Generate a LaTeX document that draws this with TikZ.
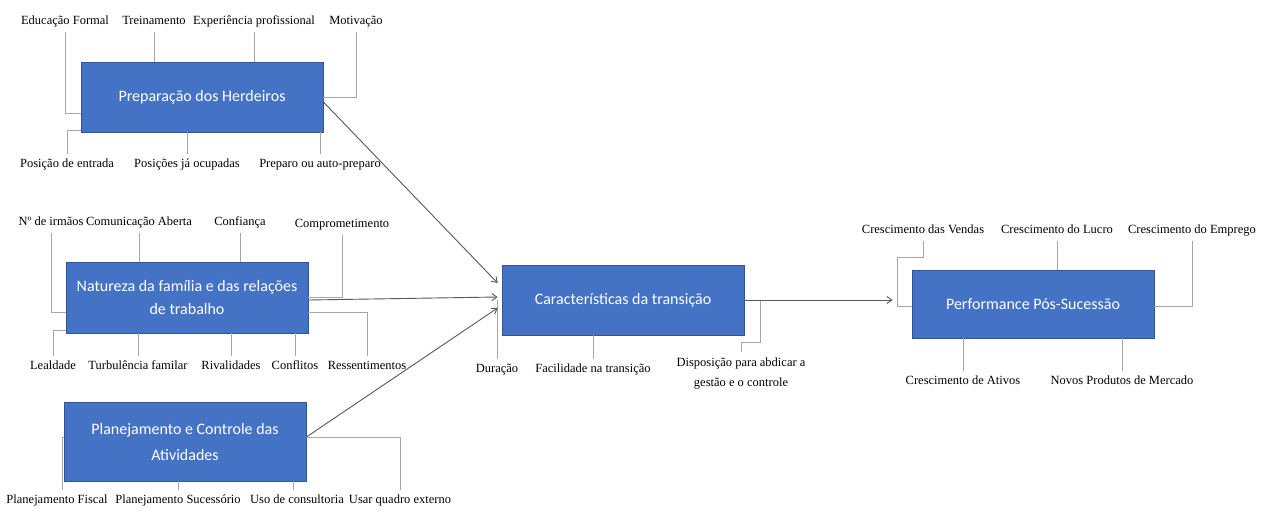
\documentclass[tikz,border=0pt]{standalone}
\usepackage{fontspec}
\setmainfont{Liberation Serif}
\newfontfamily\boxfont{Carlito}
\usetikzlibrary{arrows.meta}
\definecolor{boxblue}{HTML}{4472C4}
\definecolor{boxedge}{HTML}{2F5597}
\definecolor{linegray}{HTML}{A6A6A6}
\definecolor{arrowgray}{HTML}{595959}
\begin{document}
\begin{tikzpicture}[x=1pt,y=-1pt,
  blk/.style={draw=boxedge, line width=0.8pt, fill=boxblue, text=white,
    font=\boxfont\fontsize{16}{24}\selectfont, align=center,
    minimum width=242pt, inner sep=0pt},
  lbl/.style={font=\fontsize{12.5}{20}\selectfont, inner sep=0pt, outer ysep=4.5pt,
    text height=9pt, text depth=3pt, anchor=base},
  lbltwo/.style={font=\fontsize{12.5}{20}\selectfont, inner sep=0pt, outer ysep=6pt,
    align=center, anchor=north},
  conn/.style={draw=linegray, line width=1pt},
  arr/.style={draw=arrowgray, line width=0.9pt, -{Straight Barb[length=5pt,width=7pt]}}]
\fill[white] (0,0) rectangle (1273,511);
\useasboundingbox (0,0) rectangle (1273,511);

% Boxes
\node[blk, minimum height=70pt] (b1) at (202,97) {Preparação dos Herdeiros};
\node[blk, minimum height=71pt] (b2) at (187,297.5) {Natureza da família e das relações\\de trabalho};
\node[blk, minimum height=79pt] (b3) at (185,441.5) {Planejamento e Controle das\\[2pt]Atividades};
\node[blk, minimum height=70pt] (b4) at (623,300) {Características da transição};
\node[blk, minimum height=68pt] (b5) at (1033,304) {Performance Pós-Sucessão};

% Labels box 1
\node[lbl] (ef) at (65,25) {Educação Formal};
\node[lbl] (tr) at (154,25) {Treinamento};
\node[lbl] (ep) at (254,25) {Experiência profissional};
\node[lbl] (mo) at (356,25) {Motivação};
\node[lbl] (pe) at (67,167) {Posição de entrada};
\node[lbl] (pj) at (187,167) {Posições já ocupadas};
\node[lbl] (pa) at (320,167) {Preparo ou auto-preparo};

% Labels box 2
\node[lbl] (ni) at (51,225) {Nº de irmãos};
\node[lbl] (ca) at (139,225) {Comunicação Aberta};
\node[lbl] (cf) at (240,225) {Confiança};
\node[lbl] (cm) at (342,227) {Comprometimento};
\node[lbl] (le) at (53,369) {Lealdade};
\node[lbl] (tf) at (138,369) {Turbulência familar};
\node[lbl] (rv) at (231,369) {Rivalidades};
\node[lbl] (co) at (295,369) {Conflitos};
\node[lbl] (rs) at (367,369) {Ressentimentos};

% Labels box 3
\node[lbl] (pf) at (57,503) {Planejamento Fiscal};
\node[lbl] (ps) at (178,503) {Planejamento Sucessório};
\node[lbl] (uc) at (297,503) {Uso de consultoria};
\node[lbl] (uq) at (400,503) {Usar quadro externo};

% Labels box 4
\node[lbl] (du) at (497,372) {Duração};
\node[lbl] (fa) at (593,372) {Facilidade na transição};
\node[lbltwo] (di) at (741,352) {Disposição para abdicar a\\gestão e o controle};

% Labels box 5
\node[lbl] (cv) at (923,233) {Crescimento das Vendas};
\node[lbl] (cl) at (1057,233) {Crescimento do Lucro};
\node[lbl] (ce) at (1192,233) {Crescimento do Emprego};
\node[lbl] (ca2) at (963,384) {Crescimento de Ativos};
\node[lbl] (np) at (1122,384) {Novos Produtos de Mercado};

% Connectors box 1
\draw[conn] (ef.south) |- ([yshift=-16pt]b1.west);
\draw[conn] (tr.south) -- (tr.south |- b1.north);
\draw[conn] (ep.south) -- (ep.south |- b1.north);
\draw[conn] (mo.south) |- (b1.east);
\draw[conn] (pe.north) |- ([yshift=2pt]b1.south west);
\draw[conn] (pj.north) -- (pj.north |- b1.south);
\draw[conn] (pa.north) -- (pa.north |- b1.south);

% Connectors box 2
\draw[conn] (ni.south) |- ([yshift=-14.5pt]b2.west);
\draw[conn] (ca.south) -- (ca.south |- b2.north);
\draw[conn] (cf.south) -- (cf.south |- b2.north);
\draw[conn] (cm.south) |- (b2.east);
\draw[conn] (le.north) |- ([yshift=3pt]b2.south west);
\draw[conn] (tf.north) -- (tf.north |- b2.south);
\draw[conn] (rv.north) -- (rv.north |- b2.south);
\draw[conn] (co.north) -- (co.north |- b2.south);
\draw[conn] (rs.north) |- ([yshift=-15pt]b2.east);

% Connectors box 3
\draw[conn] ([xshift=5pt]pf.north) |- ([yshift=4.5pt]b3.west);
\draw[conn] (ps.north) -- (ps.north |- b3.south);
\draw[conn] ([xshift=-4pt]uc.north) -- ([xshift=-4pt]uc.north |- b3.south);
\draw[conn] (uq.north) |- ([yshift=4.5pt]b3.east);

% Connectors box 4
\draw[conn] (du.north) -- (du.north |- b4.west);
\draw[conn] (fa.north) -- (fa.north |- b4.south);
\draw[conn] (b4.east) -| ++(16,42) -| (di.north);

% Connectors box 5
\draw[conn] (cv.south) |- ++(-26,16.5) |- ([yshift=-2pt]b5.west);
\draw[conn] (cl.south) -- (cl.south |- b5.north);
\draw[conn] (ce.south) |- ([yshift=-2pt]b5.east);
\draw[conn] (ca2.north) -- (ca2.north |- b5.south);
\draw[conn] (np.north) -- (np.north |- b5.south);

% Arrows
\draw[arr] ([yshift=-5pt]b1.east) -- ([xshift=-4pt,yshift=17pt]b4.west);
\draw[arr] ([yshift=-2.5pt]b2.east) -- ([xshift=-4pt,yshift=3pt]b4.west);
\draw[arr] ([yshift=4.5pt]b3.east) -- ([xshift=-4pt,yshift=-8pt]b4.west);
\draw[arr, shorten >=19pt] (b4.east) -- (b4.east -| b5.west);
\end{tikzpicture}
\end{document}
